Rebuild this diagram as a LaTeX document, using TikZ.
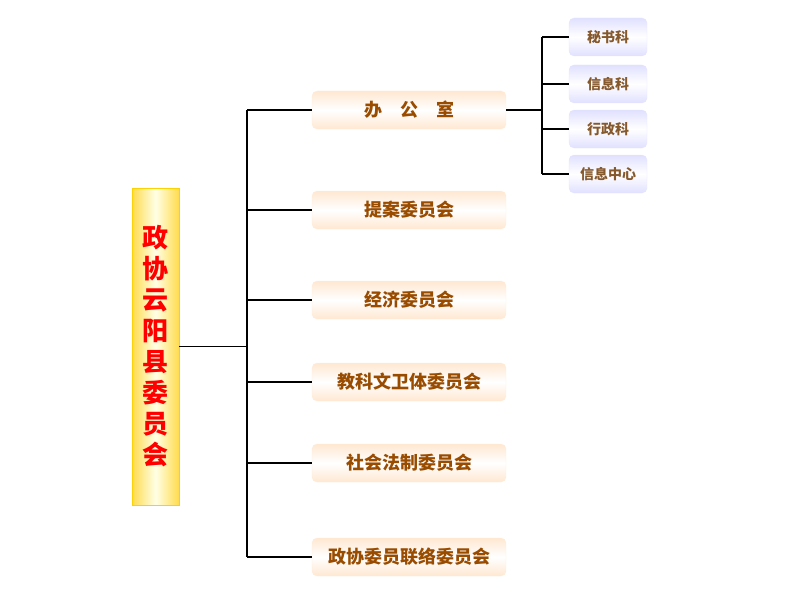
\documentclass[tikz,border=0pt]{standalone}
\usepackage{fontspec}
\newfontfamily\cjk{Noto Sans CJK SC}
\begin{document}
\begin{tikzpicture}[x=1pt,y=-1pt,
  ln/.style={line width=1.6pt,black},
  org/.style={rounded corners=5pt,draw=orange!15,top color=orange!18,bottom color=orange!18,middle color=white,minimum width=194pt,minimum height=38pt,inner sep=0pt,text=orange!60!black,font=\cjk\fontsize{18}{18}\selectfont\bfseries},
  blu/.style={rounded corners=5pt,draw=blue!10,top color=blue!12,bottom color=blue!12,middle color=white,minimum width=78pt,minimum height=38pt,inner sep=0pt,text=brown!70!black,font=\cjk\fontsize{14}{14}\selectfont\bfseries}]
\useasboundingbox (0,0) rectangle (791,607);
\node[draw=yellow!70!orange,left color=yellow!60!orange!70,right color=yellow!60!orange!70,middle color=yellow!10,minimum width=47pt,minimum height=317pt,inner sep=0pt,text=red,font=\cjk\fontsize{26}{31}\selectfont\bfseries,align=center] (m) at (155.5,346.5) {政\\协\\云\\阳\\县\\委\\员\\会};
\node[org] (o1) at (409,110) {办　公　室};
\node[org] (o2) at (409,210) {提案委员会};
\node[org] (o3) at (409,300) {经济委员会};
\node[org] (o4) at (409,382) {教科文卫体委员会};
\node[org] (o5) at (409,463) {社会法制委员会};
\node[org] (o6) at (409,557) {政协委员联络委员会};
\node[blu] (b1) at (608,37) {秘书科};
\node[blu] (b2) at (608,84) {信息科};
\node[blu] (b3) at (608,129) {行政科};
\node[blu] (b4) at (608,174) {信息中心};
\coordinate (t) at (247,346);
\draw[ln] (m.east) -- (m.east -| t);
\draw[ln] (t |- o1.west) -- (t |- o6.west);
\foreach \i in {1,...,6} \draw[ln] (t |- o\i.west) -- (o\i.west);
\coordinate (s) at (542,111);
\draw[ln] (o1.east) -- (o1.east -| s);
\draw[ln] (s |- b1.west) -- (s |- b4.west);
\foreach \i in {1,...,4} \draw[ln] (s |- b\i.west) -- (b\i.west);
\end{tikzpicture}
\end{document}
